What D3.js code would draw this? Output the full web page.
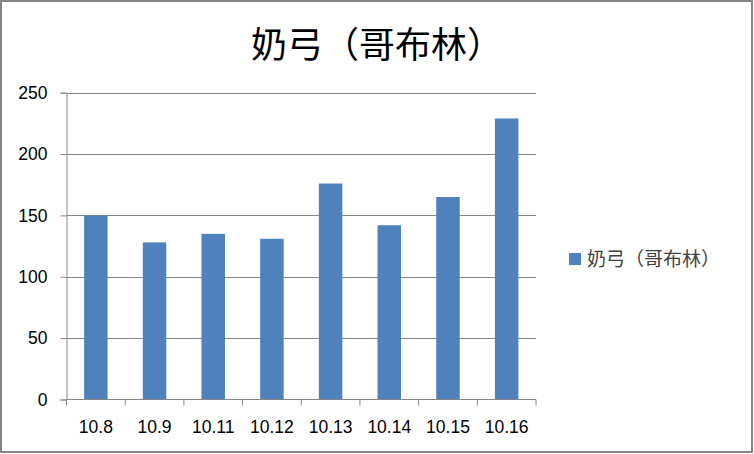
<!DOCTYPE html>
<html><head><meta charset="utf-8">
<script src="https://cdn.jsdelivr.net/npm/d3@7"></script>
<style>html,body{margin:0;padding:0;background:#fff;}svg{display:block;}</style>
</head><body>
<svg id="c" width="754" height="454"></svg>
<script>
const title = "奶弓（哥布林）";
const seriesName = "奶弓（哥布林）";
const categories = ["10.8","10.9","10.11","10.12","10.13","10.14","10.15","10.16"];
const values = [150,128,135,131,176,142,165,229];
const yTicks = [0,50,100,150,200,250];

const svg = d3.select("#c");
const W = 754, H = 454;
const m = {left:66.5, right:536, top:92.7, bottom:399.5};
const numFont = "'Liberation Sans',Arial,sans-serif";

svg.append("rect").attr("x",1).attr("y",1).attr("width",W-3).attr("height",H-3)
  .attr("fill","#fff").attr("stroke","#868686").attr("stroke-width",2);

const x = d3.scaleBand().domain(categories).range([m.left,m.right]).paddingInner(0.6).paddingOuter(0.3);
const y = d3.scaleLinear().domain([0,250]).range([m.bottom,m.top]);

// gridlines
svg.append("g").selectAll("line").data(yTicks.filter(d=>d>0)).join("line")
  .attr("x1",m.left).attr("x2",m.right)
  .attr("y1",d=>Math.round(y(d))+0.5).attr("y2",d=>Math.round(y(d))+0.5)
  .attr("stroke","#868686").attr("stroke-width",1);

// y axis
const yAxis = d3.axisLeft(y).tickValues(yTicks).tickSize(6).tickPadding(13);
const gy = svg.append("g").attr("transform",`translate(${m.left},0)`).call(yAxis);
gy.attr("font-size",null).attr("font-family",null);
gy.select(".domain").attr("stroke","#868686");
gy.selectAll(".tick line").attr("stroke","#868686");
gy.selectAll(".tick text").style("font-family",numFont)
  .style("font-size","17.5px").attr("fill","#000");

// bars
svg.append("g").selectAll("rect").data(values).join("rect")
  .attr("x",(d,i)=>x(categories[i]))
  .attr("width",x.bandwidth())
  .attr("y",d=>y(d))
  .attr("height",d=>y(0)-y(d))
  .attr("fill","#4F81BD");

// x axis
const step = x.step();
const xAxis = d3.axisBottom(x).tickSize(0).tickPadding(21);
const gx = svg.append("g").attr("transform",`translate(0,${m.bottom})`).call(xAxis);
gx.attr("font-size",null).attr("font-family",null);
gx.select(".domain").attr("stroke","#868686").attr("d",`M${m.left},0H${m.right}`);
gx.selectAll(".tick text").style("font-family",numFont)
  .style("font-size","17.5px").attr("fill","#000");
const bounds = categories.map(c=>x(c)-step*0.3).concat([m.right]);
gx.append("g").selectAll("line").data(bounds).join("line")
  .attr("x1",d=>d).attr("x2",d=>d).attr("y1",0).attr("y2",6)
  .attr("stroke","#868686");

// title
svg.append("text").attr("x",377).attr("y",58).attr("text-anchor","middle")
  .attr("font-family","'Noto Sans CJK SC',sans-serif").attr("font-size","36px")
  .attr("fill","#000").text(title);

// legend
const lg = svg.append("g").attr("transform","translate(569,253)");
lg.append("rect").attr("width",12).attr("height",12).attr("fill","#4F81BD");
lg.append("text").attr("x",18).attr("y",6).attr("dy","0.35em")
  .attr("font-family","'Noto Sans CJK SC',sans-serif").attr("font-size","19px")
  .attr("fill","#404040").text(seriesName);
</script>
</body></html>
